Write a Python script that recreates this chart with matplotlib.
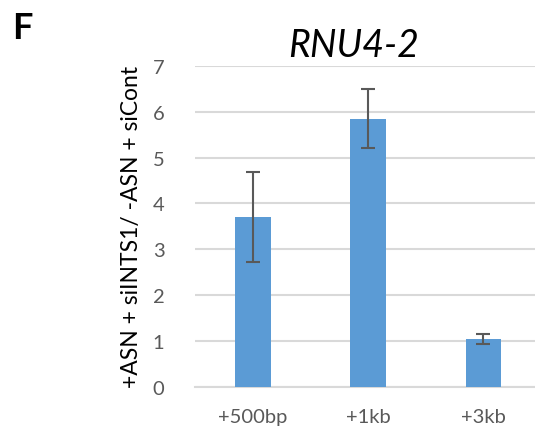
import matplotlib
matplotlib.use("Agg")
import matplotlib.pyplot as plt
import numpy as np

# data
categories = ["+500bp", "+1kb", "+3kb"]
values = [3.71, 5.85, 1.04]
errors = [0.98, 0.64, 0.11]
yticks = [0, 1, 2, 3, 4, 5, 6, 7]

plt.rcParams['font.family'] = ['Lato', 'DejaVu Sans']

fig = plt.figure(figsize=(5.35, 4.31), dpi=100)
ax = fig.add_axes([0.3645, 0.1005, 0.647, 0.744])

x = np.arange(len(categories))
ax.bar(x, values, width=0.31, color="#5b9bd5", zorder=3)
ax.errorbar(x, values, yerr=errors, fmt="none", ecolor="#595959",
            elinewidth=1.5, capsize=5, capthick=1.5, zorder=4)

ax.set_xlim(-0.5, 2.5)
ax.set_ylim(0, 7)
ax.set_yticks(yticks)
ax.set_xticks(x)
ax.set_xticklabels(categories)
ax.tick_params(axis="both", length=0, labelsize=14.5, colors="#595959")
ax.tick_params(axis="y", pad=22)
ax.tick_params(axis="x", pad=15)
ax.yaxis.grid(True, color="#d9d9d9", linewidth=1.5, zorder=0)
for s in ["top", "right", "left"]:
    ax.spines[s].set_visible(False)
ax.spines["bottom"].set_color("#d9d9d9")
ax.spines["bottom"].set_linewidth(1.5)

ax.set_ylabel("+ASN + siINTS1/ -ASN + siCont", fontsize=16.5, color="black", labelpad=8)
fig.text(0.66, 0.893, "RNU4-2", fontsize=27, style="italic", ha="center", va="center")
fig.text(0.022, 0.935, "F", fontsize=26, fontweight="bold", ha="left", va="center")

fig.savefig("out.png", dpi=100)
